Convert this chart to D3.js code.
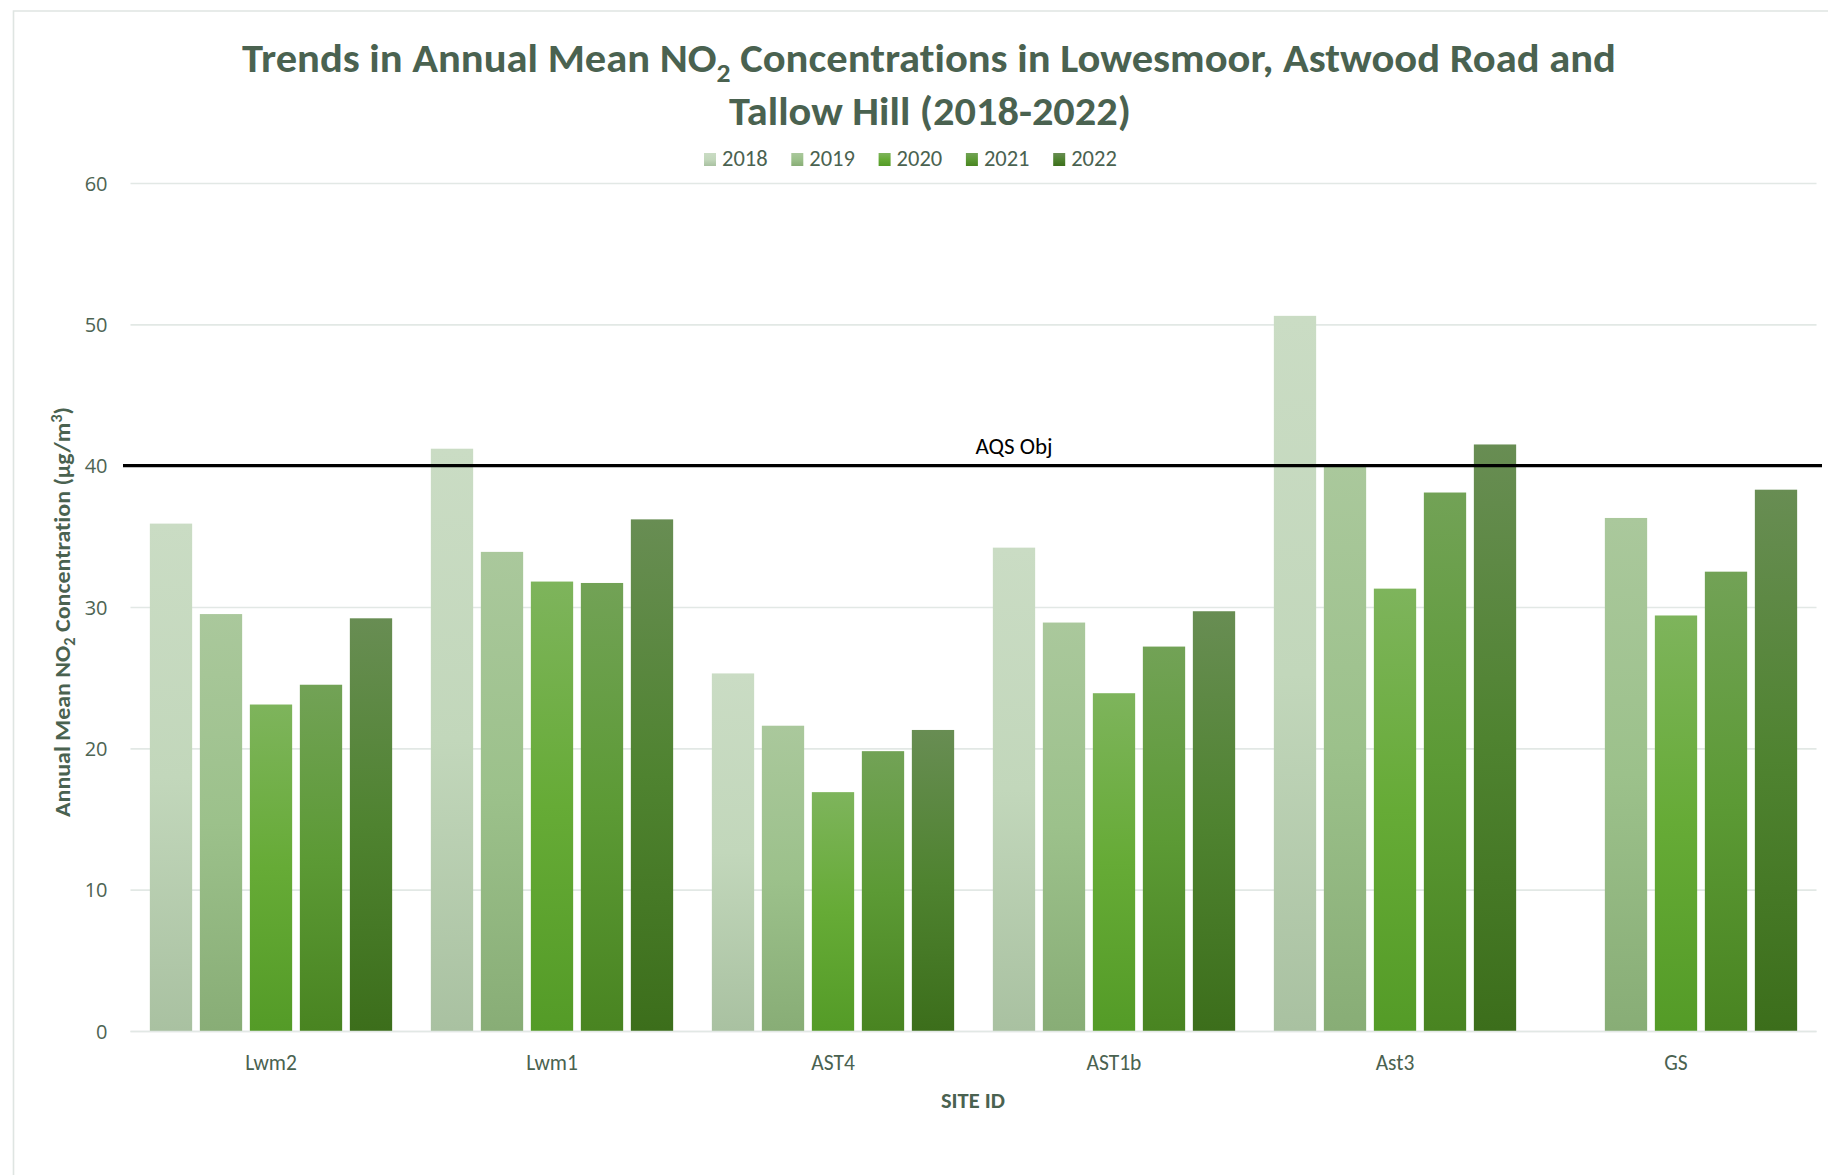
<!DOCTYPE html>
<html>
<head>
<meta charset="utf-8">
<script src="https://cdn.jsdelivr.net/npm/d3@7"></script>
<style>
  html, body { margin: 0; padding: 0; background: #ffffff; }
  svg { display: block; }
  text { font-variant-ligatures: none; font-feature-settings: "liga" 0; }
</style>
</head>
<body>
<svg id="chart" width="1828" height="1175"></svg>
<script>
// ---------------- data ----------------
const sites = ["Lwm2", "Lwm1", "AST4", "AST1b", "Ast3", "GS"];
const years = ["2018", "2019", "2020", "2021", "2022"];
const v2018 = [35.9, 41.2, 25.3, 34.2, 50.6, null];
const v2019 = [29.5, 33.9, 21.6, 28.9, 40.0, 36.3];
const v2020 = [23.1, 31.8, 16.9, 23.9, 31.3, 29.4];
const v2021 = [24.5, 31.7, 19.8, 27.2, 38.1, 32.5];
const v2022 = [29.2, 36.2, 21.3, 29.7, 41.5, 38.3];
const seriesValues = [v2018, v2019, v2020, v2021, v2022];
const yTicks = [0, 10, 20, 30, 40, 50, 60];
const aqsValue = 40;
const aqsLabel = "AQS Obj";
const titleLine1 = ["Trends in Annual Mean NO", "2", " Concentrations in Lowesmoor, Astwood Road and"];
const titleLine2 = "Tallow Hill (2018-2022)";
const yTitle = ["Annual Mean NO", "2", " Concentration (µg/m", "3", ")"];
const xTitle = "SITE ID";

// ---------------- style ----------------
const gradStops = [
  ["#cadcc4", "#c2d7bb", "#a9c1a1"],
  ["#aac89c", "#9cc18b", "#88ad76"],
  ["#7eb45c", "#66ab36", "#549b27"],
  ["#72a256", "#5c9a35", "#498421"],
  ["#688d53", "#4f8330", "#3c6e1b"]
];
const textCol = "#4a6250";
const calibri = "Carlito, Calibri, Lato, sans-serif";

const svg = d3.select("#chart");
const margin = { left: 130.5, right: 1816.5, top: 183, bottom: 1031 };

// chart border
svg.append("path")
  .attr("d", `M13.5,1180 L13.5,11 L1835,11`)
  .attr("fill", "none").attr("stroke", "#dfe5e2").attr("stroke-width", 1.6);

const x0 = d3.scaleBand().domain(sites).range([margin.left, margin.right]).padding(0);
const x1 = d3.scaleBand().domain(years).range([0, x0.bandwidth()])
  .paddingInner(0.154).paddingOuter(0.387);
const y = d3.scaleLinear().domain([0, 60]).range([margin.bottom, margin.top]);

// gradients
const defs = svg.append("defs");
years.forEach((yr, i) => {
  const g = defs.append("linearGradient").attr("id", "g" + yr)
    .attr("x1", 0).attr("y1", 0).attr("x2", 0).attr("y2", 1);
  g.append("stop").attr("offset", "0%").attr("stop-color", gradStops[i][0]);
  g.append("stop").attr("offset", "50%").attr("stop-color", gradStops[i][1]);
  g.append("stop").attr("offset", "100%").attr("stop-color", gradStops[i][2]);
});

// gridlines
const yAxis = d3.axisLeft(y).tickValues(yTicks).tickSize(-(margin.right - margin.left)).tickFormat(d => d);
const ga = svg.append("g").attr("transform", `translate(${margin.left},0)`).call(yAxis);
ga.select(".domain").remove();
ga.selectAll(".tick line").attr("stroke", "#e2e8e5").attr("stroke-width", 1.6);
ga.selectAll(".tick text")
  .attr("x", -23).attr("dy", "0.36em")
  .attr("font-family", "'Open Sans', sans-serif").attr("font-size", 20)
  .attr("fill", "#4d6453");

// bars
const groups = svg.append("g").selectAll("g").data(sites).join("g")
  .attr("transform", d => `translate(${x0(d)},0)`);
groups.selectAll("rect")
  .data((site, si) => years.map((yr, k) => ({ yr, v: seriesValues[k][si] })).filter(d => d.v != null))
  .join("rect")
  .attr("x", d => x1(d.yr))
  .attr("width", x1.bandwidth())
  .attr("y", d => y(d.v))
  .attr("height", d => y(0) - y(d.v))
  .attr("fill", d => `url(#g${d.yr})`);

// baseline (light)
svg.append("line").attr("x1", margin.left).attr("x2", margin.right)
  .attr("y1", y(0) + 0.5).attr("y2", y(0) + 0.5)
  .attr("stroke", "#e2e8e5").attr("stroke-width", 1.6);

// x labels
const xAxis = d3.axisBottom(x0).tickSize(0).tickPadding(0);
const gx = svg.append("g").attr("transform", `translate(0,${y(0)})`).call(xAxis);
gx.select(".domain").remove();
gx.selectAll(".tick text").attr("dy", 0).attr("y", 39)
  .attr("font-family", calibri).attr("font-size", 21.5).attr("fill", textCol);

// AQS line
svg.append("line")
  .attr("x1", 123).attr("x2", 1822)
  .attr("y1", y(aqsValue)).attr("y2", y(aqsValue))
  .attr("stroke", "#000").attr("stroke-width", 3.2);
svg.append("text").attr("x", 1014).attr("y", y(aqsValue) - 12)
  .attr("text-anchor", "middle").attr("font-family", calibri).attr("font-size", 23)
  .attr("fill", "#000").text(aqsLabel);

// helper: horizontally fit text to a width
function fit(gSel, textSel, width, cx, cy, rot) {
  const w = textSel.node().getComputedTextLength();
  const k = width / w;
  gSel.attr("transform", `translate(${cx},${cy}) rotate(${rot}) scale(${k},1)`);
}

// title
const tg1 = svg.append("g");
const t1 = tg1.append("text").attr("text-anchor", "middle")
  .attr("font-family", calibri).attr("font-weight", "bold").attr("font-size", 40).attr("fill", textCol);
t1.append("tspan").text(titleLine1[0]);
t1.append("tspan").attr("font-size", 26).attr("dy", 10).text(titleLine1[1]);
t1.append("tspan").attr("dy", -10).text(titleLine1[2]);
fit(tg1, t1, 1374, 929, 72, 0);

const tg2 = svg.append("g");
const t2 = tg2.append("text").attr("text-anchor", "middle")
  .attr("font-family", calibri).attr("font-weight", "bold").attr("font-size", 40).attr("fill", textCol)
  .text(titleLine2);
fit(tg2, t2, 402, 930, 125, 0);

// legend
const legStart = 704, legStep = 87.3;
const leg = svg.append("g").selectAll("g").data(years).join("g")
  .attr("transform", (d, i) => `translate(${legStart + i * legStep},153)`);
leg.append("rect").attr("width", 12).attr("height", 13).attr("fill", d => `url(#g${d})`);
leg.append("text").attr("x", 18).attr("y", 13)
  .attr("font-family", calibri).attr("font-size", 22.5).attr("fill", textCol).text(d => d);

// y title
const yg = svg.append("g");
const yt = yg.append("text").attr("text-anchor", "middle")
  .attr("font-family", calibri).attr("font-weight", "bold").attr("font-size", 22).attr("fill", textCol);
yt.append("tspan").text(yTitle[0]);
yt.append("tspan").attr("font-size", 15).attr("dy", 5).text(yTitle[1]);
yt.append("tspan").attr("dy", -5).text(yTitle[2]);
yt.append("tspan").attr("font-size", 15).attr("dy", -8).text(yTitle[3]);
yt.append("tspan").attr("dy", 8).text(yTitle[4]);
fit(yg, yt, 410, 70, 612, -90);

// x title
svg.append("text").attr("x", 973).attr("y", 1108).attr("text-anchor", "middle")
  .attr("font-family", calibri).attr("font-weight", "bold").attr("font-size", 22.5).attr("fill", textCol)
  .text(xTitle);
</script>
</body>
</html>
